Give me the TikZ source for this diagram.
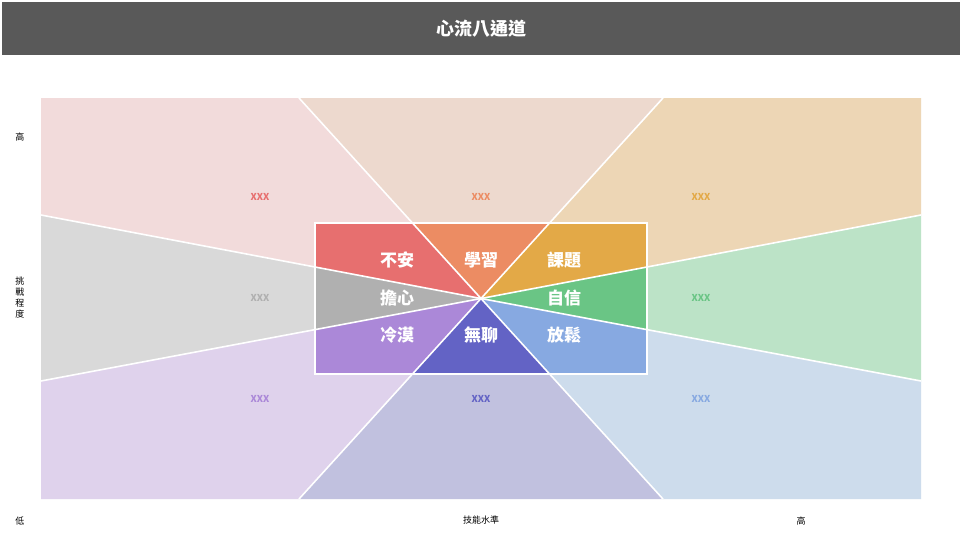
\documentclass[tikz,border=0pt]{standalone}
\usepackage{fontspec}
\newfontfamily\cjk{Noto Sans CJK TC}
\definecolor{cA}{HTML}{E76F6F}\definecolor{lA}{HTML}{F2DBDB}
\definecolor{cB}{HTML}{EC8C63}\definecolor{lB}{HTML}{EDD9CE}
\definecolor{cC}{HTML}{E3A947}\definecolor{lC}{HTML}{EDD6B5}
\definecolor{cD}{HTML}{6AC585}\definecolor{lD}{HTML}{BCE3C7}
\definecolor{cE}{HTML}{87A9E1}\definecolor{lE}{HTML}{CDDCEC}
\definecolor{cF}{HTML}{6363C5}\definecolor{lF}{HTML}{C1C1DF}
\definecolor{cG}{HTML}{AB88D8}\definecolor{lG}{HTML}{DFD2EC}
\definecolor{cH}{HTML}{B0B0B0}\definecolor{lH}{HTML}{D9D9D9}
\definecolor{titlebg}{HTML}{595959}
\tikzset{
  inlabel/.style={font=\cjk\bfseries\fontsize{17}{17}\selectfont, text=white, inner sep=0pt},
  xlabel/.style={font=\cjk\bfseries\fontsize{9.5}{10}\selectfont, inner sep=0pt},
  axlabel/.style={font=\cjk\fontsize{9}{11}\selectfont, text=black, inner sep=0pt, align=center},
  sepline/.style={draw=white, line width=1.6pt}
}
\begin{document}
\begin{tikzpicture}[x=1pt,y=-1pt]
\useasboundingbox (0,0) rectangle (962,541);
\fill[white] (0,0) rectangle (962,541);
% title bar
\fill[titlebg] (2,2) rectangle (960,55);
\node[font=\cjk\bfseries\fontsize{18}{18}\selectfont, text=white] (title) at (481,28.5) {心流八通道};
% coordinates
\coordinate (c) at (481,298.5);
\coordinate (t1) at (299,98); \coordinate (t2) at (663,98);
\coordinate (b1) at (299,499); \coordinate (b2) at (663,499);
\coordinate (l1) at (41,215); \coordinate (l2) at (41,381);
\coordinate (r1) at (921,215); \coordinate (r2) at (921,381);
\coordinate (tl) at (41,98); \coordinate (tr) at (921,98);
\coordinate (bl) at (41,499); \coordinate (br) at (921,499);
% sectors
\def\sectors#1#2#3#4#5#6#7#8{%
\fill[#1] (c) -- (l1) -- (tl) -- (t1) -- cycle;
\fill[#2] (c) -- (t1) -- (t2) -- cycle;
\fill[#3] (c) -- (t2) -- (tr) -- (r1) -- cycle;
\fill[#4] (c) -- (r1) -- (r2) -- cycle;
\fill[#5] (c) -- (r2) -- (br) -- (b2) -- cycle;
\fill[#6] (c) -- (b2) -- (b1) -- cycle;
\fill[#7] (c) -- (b1) -- (bl) -- (l2) -- cycle;
\fill[#8] (c) -- (l2) -- (l1) -- cycle;}
\sectors{lA}{lB}{lC}{lD}{lE}{lF}{lG}{lH}
\begin{scope}
\clip (315,223) rectangle (647,374);
\sectors{cA}{cB}{cC}{cD}{cE}{cF}{cG}{cH}
\end{scope}
% separator lines
\foreach \p in {t1,t2,b1,b2,l1,l2,r1,r2} \draw[sepline] (c) -- (\p);
\draw[sepline] (315,223) rectangle (647,374);
% inner labels
\node[inlabel] (n1) at (397,260) {不安};
\node[inlabel] (n2) at (481,260) {學習};
\node[inlabel] (n3) at (564,260) {課題};
\node[inlabel] (n4) at (397,298) {擔心};
\node[inlabel] (n5) at (564,298) {自信};
\node[inlabel] (n6) at (397,335) {冷漠};
\node[inlabel] (n7) at (481,335) {無聊};
\node[inlabel] (n8) at (564,335) {放鬆};
% outer labels
\node[xlabel, text=cA] (x1) at (260,197) {XXX};
\node[xlabel, text=cB] (x2) at (481,197) {XXX};
\node[xlabel, text=cC] (x3) at (701,197) {XXX};
\node[xlabel, text=cH] (x4) at (260,298) {XXX};
\node[xlabel, text=cD] (x5) at (701,298) {XXX};
\node[xlabel, text=cG] (x6) at (260,399) {XXX};
\node[xlabel, text=cF] (x7) at (481,399) {XXX};
\node[xlabel, text=cE] (x8) at (701,399) {XXX};
% axis labels
\node[axlabel] (yhigh) at (20,137) {高};
\node[axlabel] (ytitle) at (20,298) {挑\\戰\\程\\度};
\node[axlabel] (low) at (20,521) {低};
\node[axlabel] (xtitle) at (481,520) {技能水準};
\node[axlabel] (xhigh) at (801,521) {高};
\end{tikzpicture}
\end{document}
